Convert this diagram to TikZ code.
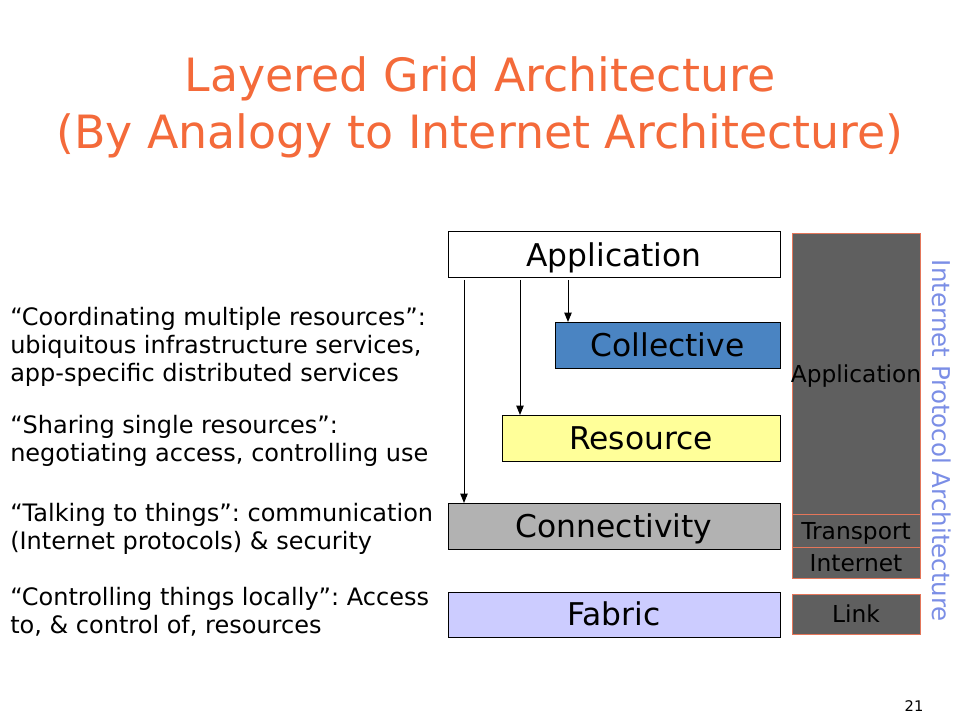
\documentclass[tikz,border=0pt]{standalone}
\usepackage{fontspec}
\setmainfont{DejaVu Sans}
\usetikzlibrary{arrows.meta}
\definecolor{titleorange}{HTML}{F46A3A}
\definecolor{collblue}{HTML}{4A84C2}
\definecolor{resyellow}{HTML}{FFFF99}
\definecolor{conngray}{HTML}{B2B2B2}
\definecolor{fablav}{HTML}{CCCCFF}
\definecolor{ipgray}{HTML}{5F5F5F}
\definecolor{ipborder}{HTML}{E4765A}
\definecolor{ipblue}{HTML}{7B8EE6}
\tikzset{
  layerbox/.style={draw=black, line width=0.75pt, inner sep=0pt, outer sep=0pt,
    text height=17.2pt, text depth=0pt,
    font=\fontsize{23.5pt}{27pt}\selectfont},
  iplbl/.style={inner sep=0pt, outer sep=0pt, text height=12.8pt, text depth=0pt,
    font=\fontsize{17.5pt}{20pt}\selectfont},
  ipbox/.style={draw=ipborder, fill=ipgray, line width=0.75pt, inner sep=0pt, outer sep=0pt,
    minimum width=128*0.75pt, text height=12.8pt, text depth=0pt,
    font=\fontsize{17.5pt}{20pt}\selectfont},
  desc/.style={anchor=north west, inner sep=0pt, align=left,
    font=\fontsize{18pt}{21pt}\selectfont},
  arr/.style={-{Triangle[length=7pt,width=5.5pt]}, line width=0.75pt},
}
\frenchspacing
\begin{document}
\begin{tikzpicture}[x=0.75pt,y=-0.75pt]
\useasboundingbox (0,0) rectangle (960,720);
\fill[white] (0,0) rectangle (960,720);

% title
\node[text=titleorange, font=\fontsize{34.4pt}{42.75pt}\selectfont, align=center, inner sep=0pt] (title) at (480,107)
  {Layered Grid Architecture\\(By Analogy to Internet Architecture)};

% grid layers
\node[layerbox, fill=white, minimum width=332*0.75pt, minimum height=46*0.75pt] (app) at (614,255) {Application};
\node[layerbox, fill=collblue, minimum width=225*0.75pt, minimum height=46*0.75pt] (coll) at (667.5,345) {Collective};
\node[layerbox, fill=resyellow, minimum width=278*0.75pt, minimum height=46*0.75pt] (res) at (641,438) {Resource};
\node[layerbox, fill=conngray, minimum width=332*0.75pt, minimum height=46*0.75pt] (conn) at (614,526) {Connectivity};
\node[layerbox, fill=fablav, minimum width=332*0.75pt, minimum height=45*0.75pt] (fab) at (614,614.5) {Fabric};

% arrows
\coordinate (a1) at (464,0);
\coordinate (a2) at (520,0);
\coordinate (a3) at (568,0);
\draw[arr, shorten <=1.5pt] (app.south -| a1) -- (conn.north -| a1);
\draw[arr, shorten <=1.5pt] (app.south -| a2) -- (res.north -| a2);
\draw[arr, shorten <=1.5pt] (app.south -| a3) -- (coll.north -| a3);

% internet protocol stack
\node[ipbox, minimum height=280*0.75pt] (ipapp) at (856,374) {};
\node[iplbl] (ipapplbl) at (ipapp.center) {Application};
\node[ipbox, minimum height=33*0.75pt] (iptr) at (856,530.5) {Transport};
\node[ipbox, minimum height=31*0.75pt] (ipin) at (856,562.5) {Internet};
\node[ipbox, minimum height=40*0.75pt] (iplink) at (856,614) {Link};

\node[text=ipblue, rotate=-90, inner sep=0pt, font=\fontsize{18.4pt}{20pt}\selectfont] (iparch) at (942,441) {Internet Protocol Architecture};

% descriptions
\node[desc] (d1) at (10,307) {“Coordinating multiple resources”:\\ubiquitous infrastructure services,\\app-specific distributed services};
\node[desc] (d2) at (10,415) {“Sharing single resources”:\\negotiating access, controlling use};
\node[desc] (d3) at (10,503) {“Talking to things”: communication\\(Internet protocols) \& security};
\node[desc] (d4) at (10,587) {“Controlling things locally”: Access\\to, \& control of, resources};

\node[font=\fontsize{11pt}{12pt}\selectfont, inner sep=0pt] (pg) at (914,706) {21};
\end{tikzpicture}
\end{document}
